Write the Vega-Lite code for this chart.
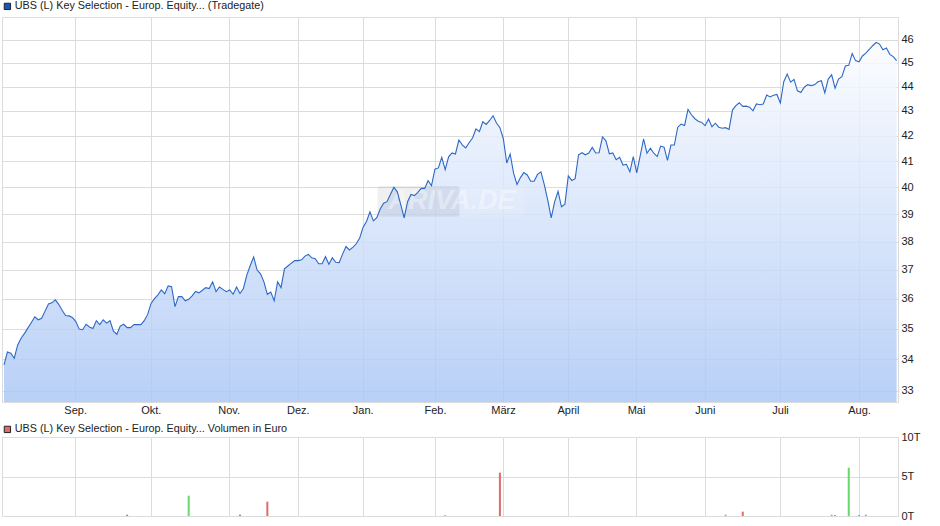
{"$schema":"https://vega.github.io/schema/vega-lite/v6.json","padding":{"left":1,"top":0,"right":0,"bottom":0},"background":"white","spacing":7,"resolve":{"scale":{"color":"independent","fill":"independent","opacity":"independent","x":"independent","y":"independent"},"legend":{"color":"independent","fill":"independent"}},"config":{"view":{"stroke":"#dcdcdc"},"font":"Liberation Sans","axis":{"gridColor":"#dcdcdc","gridOpacity":1,"gridWidth":1,"labelColor":"#222222","labelFont":"Liberation Sans","labelFontSize":11,"ticks":false,"domain":false,"title":null},"legend":{"labelFont":"Liberation Sans","labelFontSize":10.8,"labelColor":"#222222","labelLimit":500,"labelOffset":2,"padding":0,"symbolSize":40,"symbolStrokeColor":"#222222","symbolStrokeWidth":1}},"vconcat":[{"width":896,"height":385,"data":{"values":[{"i":0,"v":33.82},{"i":1,"v":34.23},{"i":2,"v":34.19},{"i":3,"v":34.03},{"i":4,"v":34.46},{"i":5,"v":34.68},{"i":6,"v":34.84},{"i":7,"v":35.02},{"i":8,"v":35.20},{"i":9,"v":35.39},{"i":10,"v":35.29},{"i":11,"v":35.34},{"i":12,"v":35.58},{"i":13,"v":35.82},{"i":14,"v":35.86},{"i":15,"v":35.96},{"i":16,"v":35.81},{"i":17,"v":35.61},{"i":18,"v":35.43},{"i":19,"v":35.42},{"i":20,"v":35.37},{"i":21,"v":35.23},{"i":22,"v":34.98},{"i":23,"v":34.96},{"i":24,"v":35.14},{"i":25,"v":35.05},{"i":26,"v":35.00},{"i":27,"v":35.26},{"i":28,"v":35.13},{"i":29,"v":35.29},{"i":30,"v":35.18},{"i":31,"v":35.26},{"i":32,"v":34.91},{"i":33,"v":34.81},{"i":34,"v":35.08},{"i":35,"v":35.14},{"i":36,"v":35.03},{"i":37,"v":35.03},{"i":38,"v":35.13},{"i":39,"v":35.13},{"i":40,"v":35.13},{"i":41,"v":35.26},{"i":42,"v":35.47},{"i":43,"v":35.84},{"i":44,"v":36.00},{"i":45,"v":36.13},{"i":46,"v":36.30},{"i":47,"v":36.17},{"i":48,"v":36.44},{"i":49,"v":36.41},{"i":50,"v":35.73},{"i":51,"v":36.07},{"i":52,"v":36.07},{"i":53,"v":35.93},{"i":54,"v":35.98},{"i":55,"v":36.10},{"i":56,"v":36.25},{"i":57,"v":36.20},{"i":58,"v":36.29},{"i":59,"v":36.38},{"i":60,"v":36.35},{"i":61,"v":36.58},{"i":62,"v":36.24},{"i":63,"v":36.40},{"i":64,"v":36.32},{"i":65,"v":36.24},{"i":66,"v":36.30},{"i":67,"v":36.15},{"i":68,"v":36.40},{"i":69,"v":36.18},{"i":70,"v":36.35},{"i":71,"v":36.81},{"i":72,"v":37.15},{"i":73,"v":37.45},{"i":74,"v":36.99},{"i":75,"v":36.86},{"i":76,"v":36.58},{"i":77,"v":36.15},{"i":78,"v":36.23},{"i":79,"v":35.93},{"i":80,"v":36.58},{"i":81,"v":36.38},{"i":82,"v":37.03},{"i":83,"v":37.13},{"i":84,"v":37.23},{"i":85,"v":37.32},{"i":86,"v":37.32},{"i":87,"v":37.35},{"i":88,"v":37.48},{"i":89,"v":37.54},{"i":90,"v":37.42},{"i":91,"v":37.39},{"i":92,"v":37.21},{"i":93,"v":37.21},{"i":94,"v":37.46},{"i":95,"v":37.19},{"i":96,"v":37.42},{"i":97,"v":37.26},{"i":98,"v":37.25},{"i":99,"v":37.55},{"i":100,"v":37.82},{"i":101,"v":37.70},{"i":102,"v":37.79},{"i":103,"v":37.92},{"i":104,"v":38.13},{"i":105,"v":38.52},{"i":106,"v":38.73},{"i":107,"v":39.08},{"i":108,"v":38.75},{"i":109,"v":38.87},{"i":110,"v":39.19},{"i":111,"v":39.40},{"i":112,"v":39.46},{"i":113,"v":39.74},{"i":114,"v":40.00},{"i":115,"v":39.83},{"i":116,"v":39.35},{"i":117,"v":38.86},{"i":118,"v":39.46},{"i":119,"v":39.73},{"i":120,"v":39.69},{"i":121,"v":39.81},{"i":122,"v":39.96},{"i":123,"v":39.96},{"i":124,"v":40.25},{"i":125,"v":40.06},{"i":126,"v":40.69},{"i":127,"v":40.74},{"i":128,"v":41.15},{"i":129,"v":40.67},{"i":130,"v":41.17},{"i":131,"v":41.32},{"i":132,"v":41.28},{"i":133,"v":41.83},{"i":134,"v":41.64},{"i":135,"v":41.52},{"i":136,"v":41.72},{"i":137,"v":41.91},{"i":138,"v":42.27},{"i":139,"v":42.16},{"i":140,"v":42.56},{"i":141,"v":42.45},{"i":142,"v":42.61},{"i":143,"v":42.80},{"i":144,"v":42.51},{"i":145,"v":42.32},{"i":146,"v":41.88},{"i":147,"v":40.93},{"i":148,"v":41.28},{"i":149,"v":40.54},{"i":150,"v":40.11},{"i":151,"v":40.37},{"i":152,"v":40.56},{"i":153,"v":40.47},{"i":154,"v":40.23},{"i":155,"v":40.23},{"i":156,"v":40.49},{"i":157,"v":40.59},{"i":158,"v":40.09},{"i":159,"v":39.51},{"i":160,"v":38.86},{"i":161,"v":39.45},{"i":162,"v":39.85},{"i":163,"v":39.27},{"i":164,"v":39.37},{"i":165,"v":40.43},{"i":166,"v":40.26},{"i":167,"v":40.33},{"i":168,"v":41.25},{"i":169,"v":41.33},{"i":170,"v":41.25},{"i":171,"v":41.32},{"i":172,"v":41.54},{"i":173,"v":41.32},{"i":174,"v":41.33},{"i":175,"v":41.95},{"i":176,"v":41.80},{"i":177,"v":41.29},{"i":178,"v":41.32},{"i":179,"v":41.06},{"i":180,"v":41.15},{"i":181,"v":40.85},{"i":182,"v":40.88},{"i":183,"v":40.59},{"i":184,"v":41.18},{"i":185,"v":40.55},{"i":186,"v":41.20},{"i":187,"v":41.87},{"i":188,"v":41.31},{"i":189,"v":41.51},{"i":190,"v":41.31},{"i":191,"v":41.18},{"i":192,"v":41.59},{"i":193,"v":41.55},{"i":194,"v":41.03},{"i":195,"v":41.63},{"i":196,"v":41.63},{"i":197,"v":42.34},{"i":198,"v":42.46},{"i":199,"v":42.41},{"i":200,"v":43.06},{"i":201,"v":42.84},{"i":202,"v":42.68},{"i":203,"v":42.58},{"i":204,"v":42.53},{"i":205,"v":42.40},{"i":206,"v":42.67},{"i":207,"v":42.36},{"i":208,"v":42.50},{"i":209,"v":42.34},{"i":210,"v":42.30},{"i":211,"v":42.32},{"i":212,"v":42.25},{"i":213,"v":43.03},{"i":214,"v":43.21},{"i":215,"v":43.33},{"i":216,"v":43.18},{"i":217,"v":43.19},{"i":218,"v":43.15},{"i":219,"v":43.00},{"i":220,"v":43.28},{"i":221,"v":43.25},{"i":222,"v":43.28},{"i":223,"v":43.65},{"i":224,"v":43.57},{"i":225,"v":43.64},{"i":226,"v":43.67},{"i":227,"v":43.32},{"i":228,"v":44.20},{"i":229,"v":44.52},{"i":230,"v":44.18},{"i":231,"v":44.30},{"i":232,"v":43.82},{"i":233,"v":43.75},{"i":234,"v":43.97},{"i":235,"v":44.08},{"i":236,"v":44.04},{"i":237,"v":44.07},{"i":238,"v":44.20},{"i":239,"v":44.24},{"i":240,"v":43.74},{"i":241,"v":44.31},{"i":242,"v":44.49},{"i":243,"v":43.93},{"i":244,"v":44.31},{"i":245,"v":44.41},{"i":246,"v":44.86},{"i":247,"v":44.89},{"i":248,"v":45.39},{"i":249,"v":45.09},{"i":250,"v":45.04},{"i":251,"v":45.29},{"i":252,"v":45.41},{"i":253,"v":45.57},{"i":254,"v":45.73},{"i":255,"v":45.87},{"i":256,"v":45.80},{"i":257,"v":45.56},{"i":258,"v":45.63},{"i":259,"v":45.36},{"i":260,"v":45.26},{"i":261,"v":45.09}]},"encoding":{"x":{"field":"i","type":"quantitative","scale":{"domain":[-0.585,261.4],"nice":false,"zero":false},"axis":{"values":[20.8,42.9,65.7,85.9,104.9,126,145.9,164.9,184.8,204.9,226.9,250],"labelExpr":"['Sep.','Okt.','Nov.','Dez.','Jan.','Feb.','März','April','Mai','Juni','Juli','Aug.'][indexof([20.8,42.9,65.7,85.9,104.9,126,145.9,164.9,184.8,204.9,226.9,250],datum.value)]","labelPadding":2,"labelFlush":false}},"y":{"field":"v","type":"quantitative","scale":{"type":"log","domain":[32.65,46.99],"nice":false,"zero":false},"axis":{"orient":"right","values":[33,34,35,36,37,38,39,40,41,42,43,44,45,46],"format":"d","labelPadding":3}}},"layer":[{"mark":{"type":"area","line":false,"opacity":0.82,"fill":{"gradient":"linear","x1":0,"y1":0,"x2":0,"y2":1,"stops":[{"offset":0,"color":"#fbfcff"},{"offset":1,"color":"#a9c6f5"}]}},"encoding":{"y2":{"datum":32.65}}},{"data":{"values":[{"a":109.2,"b":133.2,"lo":38.9,"hi":40.05,"p":"ARIVA"},{"a":133.2,"b":152.2,"lo":38.9,"hi":40.05,"p":"DE"}]},"mark":{"type":"rect","cornerRadius":3},"encoding":{"x":{"field":"a","type":"quantitative"},"x2":{"field":"b"},"y":{"field":"lo","type":"quantitative"},"y2":{"field":"hi"},"color":{"field":"p","type":"nominal","legend":null,"scale":{"domain":["ARIVA","DE"],"range":["#000000","#ffffff"]}},"opacity":{"field":"p","type":"nominal","legend":null,"scale":{"domain":["ARIVA","DE"],"range":[0.06,0.12]}}}},{"data":{"values":[{"i":131,"v":39.47,"t":"ARIVA.DE"}]},"mark":{"type":"text","font":"Liberation Sans","fontSize":27,"fontStyle":"italic","fontWeight":"bold","color":"#ffffff","opacity":0.38},"encoding":{"text":{"field":"t"},"x":{"field":"i","type":"quantitative"},"y":{"field":"v","type":"quantitative"}}},{"mark":{"type":"line","color":"#2e68c6","strokeWidth":1.1,"interpolate":"linear"}},{"data":{"values":[]},"mark":{"type":"square","opacity":1},"encoding":{"x":{"value":0},"y":{"value":0},"fill":{"datum":"UBS (L) Key Selection - Europ. Equity... (Tradegate)","scale":{"range":["#1a56b8"]},"legend":{"title":null,"orient":"none","legendX":0,"legendY":-16,"symbolType":"square"}}}}]},{"width":896,"height":79,"data":{"values":[{"i":36,"vol":170,"dir":"down"},{"i":54,"vol":2570,"dir":"up"},{"i":69,"vol":170,"dir":"down"},{"i":77,"vol":1810,"dir":"down"},{"i":129,"vol":80,"dir":"down"},{"i":145,"vol":5490,"dir":"down"},{"i":211,"vol":170,"dir":"up"},{"i":216,"vol":550,"dir":"down"},{"i":242,"vol":170,"dir":"up"},{"i":243,"vol":100,"dir":"down"},{"i":247,"vol":6120,"dir":"up"},{"i":250,"vol":100,"dir":"down"},{"i":252,"vol":170,"dir":"up"}]},"encoding":{"x":{"field":"i","type":"quantitative","scale":{"domain":[-0.585,261.4],"nice":false,"zero":false,"padding":0},"axis":{"values":[20.8,42.9,65.7,85.9,104.9,126,145.9,164.9,184.8,204.9,226.9,250],"labels":false}}},"layer":[{"mark":{"type":"bar","size":2,"orient":"vertical"},"encoding":{"y":{"field":"vol","type":"quantitative","scale":{"domain":[0,10000],"nice":false},"axis":{"orient":"right","values":[0,5000,10000],"labelExpr":"(datum.value/1000)+'T'","labelPadding":3}},"color":{"field":"dir","type":"nominal","legend":null,"scale":{"domain":["down","up"],"range":["#df6b6b","#68d868"]}}}},{"data":{"values":[]},"mark":{"type":"square","opacity":1},"encoding":{"x":{"value":0},"y":{"value":0},"fill":{"datum":"UBS (L) Key Selection - Europ. Equity... Volumen in Euro","scale":{"range":["#df6b6b"]},"legend":{"title":null,"orient":"none","legendX":0,"legendY":-13,"symbolType":"square"}}}}]}]}
